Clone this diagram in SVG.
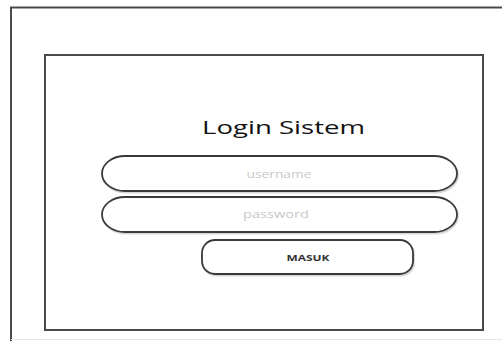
<svg xmlns="http://www.w3.org/2000/svg" width="502" height="341" viewBox="0 0 502 341">
<style>
.frame{fill:none;stroke:#4a4a4a;stroke-width:2}
.pill{fill:#fff;stroke:#3a3a3a;stroke-width:1.8}
.shadow{fill:none;stroke:#d8d8d8;stroke-width:2}
.ph{font-family:"Open Sans","Liberation Sans",sans-serif;font-size:10px;fill:#c8c8c8;text-anchor:middle}
.title{font-family:"Open Sans","Liberation Sans",sans-serif;font-size:18px;fill:#111;text-anchor:middle}
.btn{font-family:"Open Sans","Liberation Sans",sans-serif;font-size:8px;font-weight:bold;fill:#333;text-anchor:middle}
</style>
<rect width="502" height="341" fill="#fff"/>
<g id="outer-frame">
<path class="frame" d="M506 7.5 H11 V341"/>
<line x1="11" y1="339.5" x2="502" y2="339.5" stroke="#e6e6e6" stroke-width="1"/>
</g>
<g id="login-panel">
<rect class="frame" x="45" y="55" width="438" height="275"/>
</g>
<g id="title">
<text class="title" x="283.5" y="133.5" textLength="163" lengthAdjust="spacingAndGlyphs">Login Sistem</text>
</g>
<g id="username">
<rect class="shadow" x="103" y="157.5" width="355" height="35" rx="23" ry="17.5"/>
<rect class="pill" x="102" y="156" width="355" height="35" rx="23" ry="17.5"/>
<text class="ph" x="279" y="177.5" textLength="65" lengthAdjust="spacingAndGlyphs">username</text>
</g>
<g id="password">
<rect class="shadow" x="103" y="198.5" width="355" height="35" rx="23" ry="17.5"/>
<rect class="pill" x="102" y="197" width="355" height="35" rx="23" ry="17.5"/>
<text class="ph" x="276" y="218" textLength="66" lengthAdjust="spacingAndGlyphs">password</text>
</g>
<g id="masuk">
<rect class="shadow" x="203" y="241.5" width="211" height="34" rx="13"/>
<rect class="pill" x="202" y="240" width="211" height="34" rx="13"/>
<text class="btn" x="308" y="261" textLength="43" lengthAdjust="spacingAndGlyphs">MASUK</text>
</g>
<g id="connectors"></g>
</svg>
